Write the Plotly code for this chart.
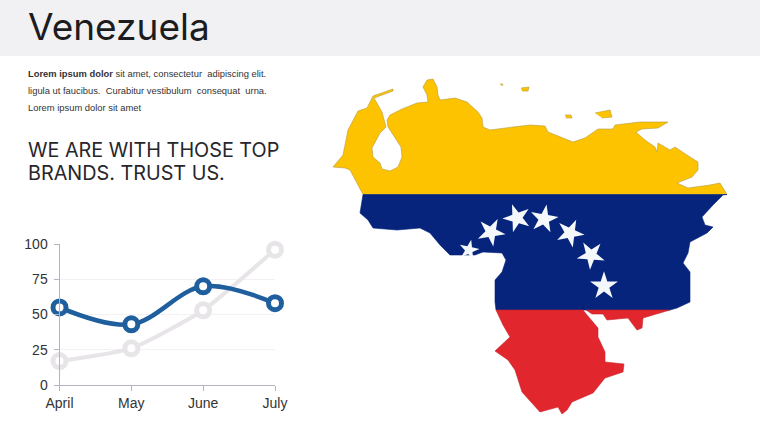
import plotly.graph_objects as go

W = 760
H = 428

months = ["April", "May", "June", "July"]
blue_values = [55, 43, 70, 58]
grey_values = [17, 26, 53, 96]
y_ticks = [0, 25, 50, 75, 100]

title = "Venezuela"
body_lines = [
    "<b>Lorem ipsum dolor</b> sit amet, consectetur  adipiscing elit.",
    "ligula ut faucibus.  Curabitur vestibulum  consequat  urna.",
    "Lorem ipsum dolor sit amet",
]
slogan_lines = ["WE ARE WITH THOSE TOP", "BRANDS. TRUST US."]

# map outline, None splits the islands
yellow_x = [363, 358, 350, 345, 333, 343, 348, 358, 367, 373, 393, 393, 374, 382, 384, 386, 380, 372, 373, 380, 382,
            390, 398, 402, 401, 393, 388, 387, 390, 402, 417, 428, 427, 423, 427, 433, 437, 438, 440, 455, 467, 478,
            482, 483, 490, 513, 530, 545, 548, 573, 585, 598, 613, 615, 640, 668, 658, 642, 636, 645, 655, 657, 658,
            670, 675, 690, 698, 698, 692, 677, 688, 710, 720, 727, 363, None,
            565, 571, 572, 566, None, 595, 610, 612, 602, None, 500, 503, 502, None, 521, 529, 528, 522]
yellow_y = [194.5, 185, 170, 168, 167, 155, 130, 111, 108, 96, 89, 91, 98, 112, 120, 127, 133, 148, 157, 163, 169,
            171, 167, 157, 147, 135, 127, 120, 115, 109, 103, 102, 95, 87, 80, 79, 87, 95, 100, 98, 102, 112,
            118, 127, 130, 127, 125, 126, 132, 142, 138, 129, 129, 125, 122, 122, 128, 129, 132, 140, 147, 152, 143,
            150, 147, 157, 162, 170, 177, 183, 188, 185, 183, 194.5, 194.5, None,
            115, 115, 118, 118, None, 113, 110, 117, 118, None, 84, 84, 86, None, 88, 87, 91, 91]

navy_x = [363, 727, 723, 713, 702, 705, 713, 707, 690, 688, 683, 690, 690, 677, 670, 496, 495, 495, 502, 506, 502,
          483, 475, 457, 450, 440, 430, 420, 397, 373, 368, 360, 362, 363]
navy_y = [194.5, 194.5, 195, 205, 217, 225, 227, 233, 242, 253, 263, 272, 302, 308, 310, 310, 302, 280, 272, 260, 253,
          252, 255, 255, 255, 245, 233, 228, 230, 228, 220, 213, 202, 194.5]

red_x = [496, 503, 510, 495, 508, 515, 522, 540, 558, 562, 567, 572, 593, 605, 623, 624, 605, 605, 598, 598, 587, 583,
         496, None, 586, 592, 603, 607, 628, 637, 642, 643, 653, 670, 586]
red_y = [310, 325, 337, 351, 360, 370, 392, 412, 407, 414, 410, 402, 393, 378, 372, 364, 362, 352, 337, 328, 315, 310,
         310, None, 310, 314, 314, 320, 318, 330, 328, 318, 315, 310, 310]

star_x = [469, 491, 517, 544, 570, 591, 604]
star_y = [250, 232, 218, 219, 233, 255, 286]
star_sizes = [15, 21, 21, 21, 21, 21, 21]
star_angles = [-60, -45, -20, 10, 25, 40, 0]


def px_x(value):
    return value / W


def px_y(value):
    return 1 - value / H


def add_text(fig, x, y, text, size, color, family):
    fig.add_annotation(x=px_x(x), y=px_y(y), xref="paper", yref="paper", text=text, showarrow=False,
                       xanchor="left", yanchor="middle", align="left", borderpad=0,
                       font=dict(size=size, color=color, family=family))


fig = go.Figure()

# line chart
fig.add_trace(go.Scatter(x=months, y=grey_values, mode="lines+markers", cliponaxis=False,
                         line=dict(color="#e8e5e8", width=4, shape="spline", smoothing=0.5),
                         marker=dict(size=13, color="#ffffff", line=dict(color="#e8e5e8", width=5))))
fig.add_trace(go.Scatter(x=months, y=blue_values, mode="lines+markers", cliponaxis=False,
                         line=dict(color="#1f5f9e", width=4.5, shape="spline", smoothing=1),
                         marker=dict(size=13, color="#ffffff", line=dict(color="#1f5f9e", width=5))))

# map
fig.add_trace(go.Scatter(x=yellow_x, y=yellow_y, xaxis="x2", yaxis="y2", mode="lines", fill="toself",
                         fillcolor="#fdc300", line=dict(color="#b59a3c", width=0.6)))
fig.add_trace(go.Scatter(x=navy_x, y=navy_y, xaxis="x2", yaxis="y2", mode="lines", fill="toself",
                         fillcolor="#06247c", line=dict(color="#06247c", width=0.6)))
fig.add_trace(go.Scatter(x=red_x, y=red_y, xaxis="x2", yaxis="y2", mode="lines", fill="toself",
                         fillcolor="#e1262d", line=dict(color="#c9252c", width=0.6)))
fig.add_trace(go.Scatter(x=star_x, y=star_y, xaxis="x2", yaxis="y2", mode="markers",
                         marker=dict(symbol="star", size=star_sizes, angle=star_angles, color="#f4f8fb",
                                     opacity=1, line=dict(width=0))))

fig.update_layout(
    width=W,
    height=H,
    margin=dict(l=0, r=0, t=0, b=0),
    paper_bgcolor="#ffffff",
    plot_bgcolor="rgba(0,0,0,0)",
    showlegend=False,
    xaxis=dict(domain=[px_x(59.5), px_x(275)], type="category", range=[0, 3], showgrid=False, zeroline=False,
               automargin=False, showline=True, linecolor="#b4b2c4", linewidth=1, ticks="outside", ticklen=5,
               tickcolor="#b4b2c4", tickfont=dict(size=14, color="#333333", family="Liberation Sans"), anchor="y"),
    yaxis=dict(domain=[px_y(385), px_y(244)], range=[0, 100], tickvals=y_ticks, showgrid=True, gridcolor="#f4f0f4",
               gridwidth=1, zeroline=False, automargin=False, showline=True, linecolor="#b4b2c4", linewidth=1,
               ticks="outside", ticklen=5, tickcolor="#b4b2c4", ticklabelstandoff=3,
               tickfont=dict(size=14, color="#333333", family="Liberation Sans"), anchor="x"),
    xaxis2=dict(domain=[0, 1], range=[0, W], visible=False, anchor="y2", automargin=False),
    yaxis2=dict(domain=[0, 1], range=[H, 0], visible=False, anchor="x2", automargin=False),
)

# header band
fig.add_shape(type="rect", xref="paper", yref="paper", x0=0, x1=1, y0=px_y(56), y1=1,
              fillcolor="#f1f1f3", line=dict(width=0), layer="below")

add_text(fig, 27, 27, title, 37, "#1c1c20", "Inter")
for line, y in zip(body_lines, [74, 90.5, 107]):
    add_text(fig, 27, y, line, 9.4, "#333333", "Liberation Sans")
for line, y in zip(slogan_lines, [150, 173]):
    add_text(fig, 27, y, line, 19.8, "#26262b", "Inter")

# browsers put 8px around the body, the picture has to start at the corner
fig.write_html("out.html", config={"displayModeBar": False}, post_script="document.body.style.margin='0';")
